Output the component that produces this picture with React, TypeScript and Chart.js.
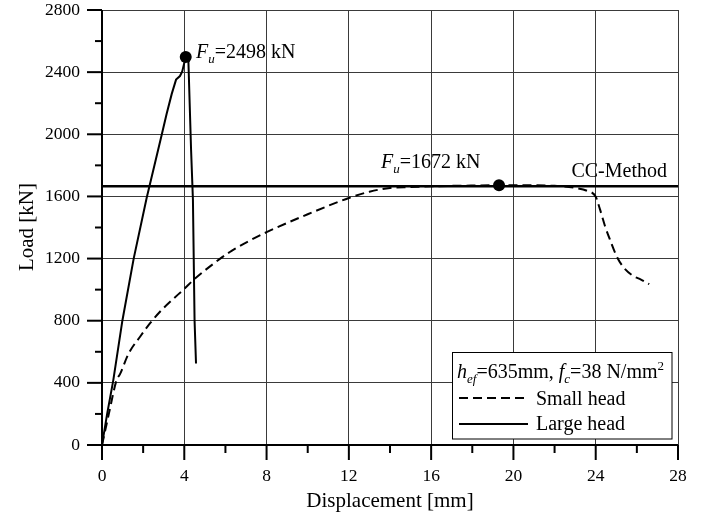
import React, { useEffect, useRef } from "react";
import { Chart, registerables } from "chart.js";

Chart.register(...registerables);

// ---- data ----
const smallHeadX = [0, 0.34, 0.71, 0.87, 1.3, 1.85, 2.33, 2.9, 3.4, 4.0, 4.44, 5.5, 6.3, 7.1, 8, 10, 12, 13, 14, 15, 16, 18, 19.3, 20, 22, 23, 23.6, 24, 24.2, 24.45, 24.7, 25.0, 25.33, 25.8, 26.2, 26.6];
const smallHeadY = [0, 205, 418, 455, 590, 697, 783, 869, 933, 1005, 1062, 1175, 1250, 1310, 1370, 1485, 1590, 1630, 1655, 1660, 1665, 1670, 1672, 1672, 1668, 1655, 1635, 1598, 1520, 1410, 1319, 1220, 1147, 1090, 1065, 1035];

const largeHeadX = [0, 0.25, 0.55, 0.99, 1.54, 2.17, 2.55, 2.9, 3.14, 3.39, 3.6, 3.79, 3.9, 4.07, 4.2, 4.33, 4.42, 4.5, 4.57];
const largeHeadY = [0, 200, 418, 800, 1200, 1590, 1800, 1995, 2130, 2260, 2352, 2375, 2405, 2498, 2470, 1900, 1580, 800, 525];

const peakX = [4.07, 19.3];
const peakY = [2498, 1672];
const ccMethodLoad = 1665;

const xTicks = [0, 4, 8, 12, 16, 20, 24, 28];
const yTicks = [0, 400, 800, 1200, 1600, 2000, 2400, 2800];
const xMinorStep = 2;
const yMinorStep = 200;

const SERIF = "'Liberation Serif', 'Times New Roman', serif";

function drawRich(ctx: CanvasRenderingContext2D, parts: { t: string; italic?: boolean; sub?: boolean; sup?: boolean }[], x: number, y: number, size: number) {
  let cx = x;
  for (const p of parts) {
    const s = p.sub || p.sup ? Math.round(size * 0.65) : size;
    ctx.font = `${p.italic ? "italic " : ""}${s}px ${SERIF}`;
    const dy = p.sub ? size * 0.25 : p.sup ? -size * 0.38 : 0;
    ctx.fillText(p.t, cx, y + dy);
    cx += ctx.measureText(p.t).width;
  }
  return cx;
}

const overlay = {
  id: "overlay",
  afterDraw(chart: any) {
    const ctx: CanvasRenderingContext2D = chart.ctx;
    const xs = chart.scales.x;
    const ys = chart.scales.y;
    const { left, right, top, bottom } = chart.chartArea;
    ctx.save();
    ctx.strokeStyle = "#000";
    ctx.fillStyle = "#000";
    ctx.setLineDash([]);
    // axes
    ctx.lineWidth = 2;
    ctx.beginPath();
    ctx.moveTo(left, top);
    ctx.lineTo(left, bottom);
    ctx.moveTo(left, bottom);
    ctx.lineTo(right, bottom);
    ctx.stroke();
    // x ticks
    for (let v = 0; v <= 28 + 1e-9; v += xMinorStep) {
      const px = xs.getPixelForValue(v);
      const major = xTicks.includes(v);
      ctx.beginPath();
      ctx.moveTo(px, bottom);
      ctx.lineTo(px, bottom + (major ? 15 : 8));
      ctx.stroke();
    }
    for (let v = 0; v <= 2800 + 1e-9; v += yMinorStep) {
      const py = ys.getPixelForValue(v);
      const major = yTicks.includes(v);
      ctx.beginPath();
      ctx.moveTo(left, py);
      ctx.lineTo(left - (major ? 15 : 7), py);
      ctx.stroke();
    }
    // axis titles
    ctx.font = `21px ${SERIF}`;
    ctx.textAlign = "center";
    ctx.textBaseline = "alphabetic";
    ctx.fillText("Displacement [mm]", (left + right) / 2, 507);
    ctx.save();
    ctx.translate(27, 227);
    ctx.rotate(-Math.PI / 2);
    ctx.textBaseline = "middle";
    ctx.fillText("Load [kN]", 0, 0);
    ctx.restore();

    // annotations
    ctx.textAlign = "left";
    ctx.textBaseline = "alphabetic";
    drawRich(ctx, [{ t: "F", italic: true }, { t: "u", italic: true, sub: true }, { t: "=2498 kN" }], 196, 58, 20);
    drawRich(ctx, [{ t: "F", italic: true }, { t: "u", italic: true, sub: true }, { t: "=1672 kN" }], 381, 168, 20);
    ctx.font = `20px ${SERIF}`;
    ctx.textAlign = "right";
    ctx.fillText("CC-Method", 667, 177);

    // legend box
    ctx.textAlign = "left";
    ctx.fillStyle = "#fff";
    ctx.fillRect(452.5, 352.5, 219.5, 86.5);
    ctx.lineWidth = 1;
    ctx.strokeStyle = "#000";
    ctx.strokeRect(452.5, 352.5, 219.5, 86.5);
    ctx.fillStyle = "#000";
    drawRich(
      ctx,
      [
        { t: "h", italic: true },
        { t: "ef", italic: true, sub: true },
        { t: "=635mm, " },
        { t: "f", italic: true },
        { t: "c", italic: true, sub: true },
        { t: "=38 N/mm" },
        { t: "2", sup: true },
      ],
      457,
      378,
      20
    );
    ctx.lineWidth = 2;
    ctx.setLineDash([9, 5]);
    ctx.beginPath();
    ctx.moveTo(459, 398);
    ctx.lineTo(528, 398);
    ctx.stroke();
    ctx.setLineDash([]);
    ctx.beginPath();
    ctx.moveTo(459, 424);
    ctx.lineTo(528, 424);
    ctx.stroke();
    ctx.font = `20px ${SERIF}`;
    ctx.fillText("Small head", 536, 405);
    ctx.fillText("Large head", 536, 430);
    ctx.restore();
  },
};

export default function App() {
  const ref = useRef<HTMLCanvasElement>(null);
  useEffect(() => {
    document.body.style.margin = "0";
    const canvas = ref.current!;
    const chart = new Chart(canvas, {
      type: "scatter",
      data: {
        datasets: [
          {
            label: "Small head",
            data: smallHeadX.map((x, i) => ({ x, y: smallHeadY[i] })),
            showLine: true,
            borderColor: "#000",
            borderWidth: 2,
            borderDash: [9, 5],
            pointRadius: 0,
            cubicInterpolationMode: "monotone",
            fill: false,
          } as any,
          {
            label: "Large head",
            data: largeHeadX.map((x, i) => ({ x, y: largeHeadY[i] })),
            showLine: true,
            borderColor: "#000",
            borderWidth: 2,
            pointRadius: 0,
            tension: 0,
            fill: false,
          },
          {
            label: "CC-Method",
            data: [
              { x: 0, y: ccMethodLoad },
              { x: 28, y: ccMethodLoad },
            ],
            showLine: true,
            borderColor: "#000",
            borderWidth: 2.5,
            pointRadius: 0,
          },
          {
            label: "Fu",
            data: peakX.map((x, i) => ({ x, y: peakY[i] })),
            showLine: false,
            pointRadius: 6,
            pointBackgroundColor: "#000",
            pointBorderColor: "#000",
            pointBorderWidth: 0,
          },
        ],
      },
      options: {
        animation: false,
        responsive: true,
        maintainAspectRatio: false,
        layout: { padding: { top: 10, right: 33, left: 0, bottom: 0 } },
        plugins: { legend: { display: false }, tooltip: { enabled: false } },
        scales: {
          x: {
            type: "linear",
            min: 0,
            max: 28,
            afterBuildTicks: (s: any) => {
              s.ticks = xTicks.map((v) => ({ value: v }));
            },
            afterFit: (s: any) => {
              s.height = 71;
              s.paddingLeft = 0;
              s.paddingRight = 0;
              s.paddingTop = 0;
              s.paddingBottom = 0;
            },
            grid: { color: "#3a3a3a", lineWidth: 1, drawTicks: false },
            border: { display: false },
            ticks: { padding: 21, color: "#000", maxRotation: 0, font: { family: SERIF, size: 17.5 }, callback: (v: any) => String(v) },
          },
          y: {
            type: "linear",
            min: 0,
            max: 2800,
            afterBuildTicks: (s: any) => {
              s.ticks = yTicks.map((v) => ({ value: v }));
            },
            afterFit: (s: any) => {
              s.width = 102;
              s.paddingLeft = 0;
              s.paddingRight = 0;
              s.paddingTop = 0;
              s.paddingBottom = 0;
            },
            grid: { color: "#3a3a3a", lineWidth: 1, drawTicks: false },
            border: { display: false },
            ticks: { padding: 22, color: "#000", font: { family: SERIF, size: 17.5 }, callback: (v: any) => String(v) },
          },
        },
      },
      plugins: [overlay],
    });
    return () => chart.destroy();
  }, []);
  return (
    <div style={{ width: 711, height: 516, position: "relative" }}>
      <canvas ref={ref} />
    </div>
  );
}
